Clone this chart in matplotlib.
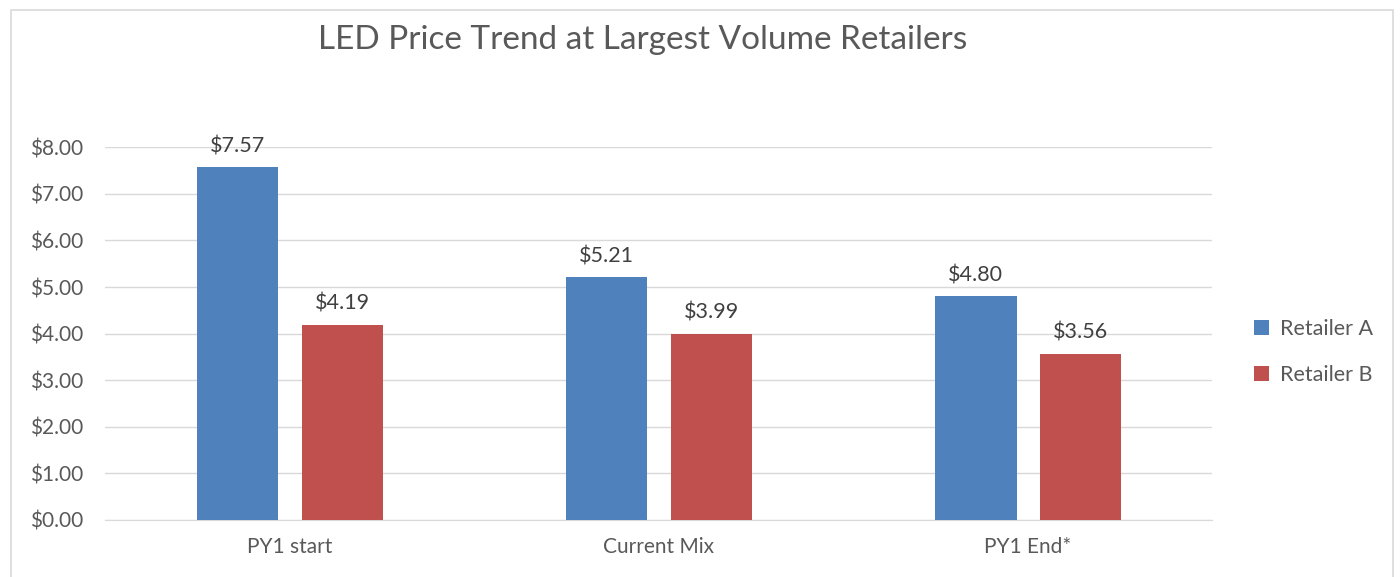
import matplotlib.pyplot as plt
from matplotlib.patches import Rectangle
from numpy import arange

# Chart data
categories = ['PY1 start', 'Current Mix', 'PY1 End*']
retailer_a = [7.57, 5.21, 4.80]
retailer_b = [4.19, 3.99, 3.56]
series_names = ['Retailer A', 'Retailer B']
y_ticks = [0, 1, 2, 3, 4, 5, 6, 7, 8]

blue = '#4F81BD'
red = '#C0504D'
text_col = '#595959'

plt.rcParams['font.family'] = ['Lato', 'DejaVu Sans']

fig = plt.figure(figsize=(14, 5.77), dpi=100)
ax = fig.add_axes([0.075, 0.0988, 0.791, 0.646])

x = arange(len(categories))
w = 0.221
bars_a = ax.bar(x - 0.141, retailer_a, width=w, color=blue, label=series_names[0], zorder=3)
bars_b = ax.bar(x + 0.143, retailer_b, width=w, color=red, label=series_names[1], zorder=3)

# value labels above the bars
for bars in (bars_a, bars_b):
    for b in bars:
        ax.text(b.get_x() + b.get_width() / 2, b.get_height() + 0.24, '$%.2f' % b.get_height(),
                ha='center', va='bottom', fontsize=15.5, color='#404040')

ax.set_xlim(-0.5, 2.5)
ax.set_ylim(0, 8)
ax.set_yticks(y_ticks)
ax.set_yticklabels(['$%.2f' % t for t in y_ticks])
ax.set_xticks(x)
ax.set_xticklabels(categories)
ax.tick_params(axis='both', length=0, labelsize=15, labelcolor=text_col)
ax.tick_params(axis='x', pad=12)
ax.tick_params(axis='y', pad=16)
ax.grid(axis='y', color='#D9D9D9', linewidth=1, zorder=0)
for s in ['top', 'right', 'left']:
    ax.spines[s].set_visible(False)
ax.spines['bottom'].set_color('#D9D9D9')

fig.text(0.459, 0.93, 'LED Price Trend at Largest Volume Retailers', ha='center', va='center',
         fontsize=24, color=text_col)

ax.legend(loc='center left', bbox_to_anchor=(1.02, 0.45), frameon=False, fontsize=15.5,
          handlelength=0.7, handleheight=0.7, handletextpad=0.5, labelspacing=1.2,
          labelcolor=text_col)

fig.patches.append(Rectangle((0.008, -0.1), 0.987, 1.083, transform=fig.transFigure,
                             fill=False, edgecolor='#D9D9D9', linewidth=1.2))

fig.savefig('out.png', dpi=100)
